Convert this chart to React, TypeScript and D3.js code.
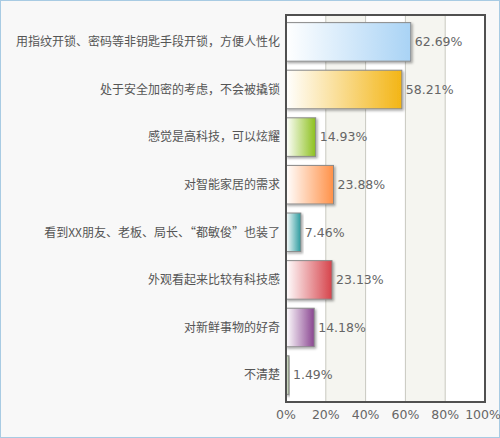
import * as d3 from "d3";
import React from "react";

const categories = [
  "用指纹开锁、密码等非钥匙手段开锁，方便人性化",
  "处于安全加密的考虑，不会被撬锁",
  "感觉是高科技，可以炫耀",
  "对智能家居的需求",
  "看到XX朋友、老板、局长、“都敏俊”也装了",
  "外观看起来比较有科技感",
  "对新鲜事物的好奇",
  "不清楚",
];
const values = [62.69, 58.21, 14.93, 23.88, 7.46, 23.13, 14.18, 1.49];
const barColors = ["#a9d3f5", "#f3b515", "#8cc01c", "#ff9148", "#2a9a9e", "#d6434b", "#8a4691", "#8fa87c"];
const ticks = [0, 20, 40, 60, 80, 100];

const W = 500;
const H = 438;
const plot = { left: 286, right: 485, top: 15, bottom: 402 };

const App: React.FC = () => {
  const x = d3.scaleLinear().domain([0, 100]).range([plot.left, plot.right]);
  const y = d3
    .scaleBand<string>()
    .domain(categories)
    .range([plot.top, plot.bottom])
    .paddingInner(0.19)
    .paddingOuter(0.16);

  return (
    <svg width={W} height={H} style={{ position: "absolute", left: 0, top: 0 }}>
      <defs>
        {barColors.map((c, i) => (
          <linearGradient key={i} id={`g${i}`} x1="0" x2="1" y1="0" y2="0">
            <stop offset="0%" stopColor="#ffffff" />
            <stop offset="100%" stopColor={c} />
          </linearGradient>
        ))}
        <filter id="sh" x="-10%" y="-10%" width="130%" height="140%">
          <feDropShadow dx="1.5" dy="1.5" stdDeviation="1.2" floodColor="#000" floodOpacity="0.35" />
        </filter>
      </defs>
      <rect x={0.5} y={0.5} width={W - 1} height={H - 1} fill="#f8f8f8" stroke="#a8cbe3" />
      <rect x={plot.left} y={plot.top} width={plot.right - plot.left} height={plot.bottom - plot.top} fill="#ffffff" />
      {ticks.slice(0, -1).map((t, i) =>
        i % 2 === 1 ? (
          <rect key={`b${t}`} x={x(t)} y={plot.top} width={x(ticks[i + 1]) - x(t)} height={plot.bottom - plot.top} fill="#f5f5f0" />
        ) : null
      )}
      {ticks.slice(1, -1).map((t) => (
        <line key={`l${t}`} x1={x(t)} x2={x(t)} y1={plot.top} y2={plot.bottom} stroke="#c8c8c0" strokeWidth={1} />
      ))}
      {categories.map((c, i) => {
        const by = y(c) as number;
        const bh = y.bandwidth();
        return (
          <g key={c}>
            <rect
              x={x(0)}
              y={by}
              width={Math.max(x(values[i]) - x(0), 2)}
              height={bh}
              fill={`url(#g${i})`}
              stroke="#8a8a8a"
              strokeWidth={1}
              filter="url(#sh)"
            />
            <text
              x={plot.left - 6}
              y={by + bh / 2}
              dy="0.35em"
              textAnchor="end"
              fontSize={12}
              fill="#555"
              fontFamily="'Noto Sans CJK SC', sans-serif"
            >
              {c}
            </text>
            <text
              x={x(values[i]) + 4}
              y={by + bh / 2}
              dy="0.35em"
              fontSize={12.5}
              fill="#666"
              fontFamily="'DejaVu Sans', Verdana, sans-serif"
            >
              {values[i].toFixed(2)}%
            </text>
          </g>
        );
      })}
      <rect
        x={plot.left}
        y={plot.top}
        width={plot.right - plot.left}
        height={plot.bottom - plot.top}
        fill="none"
        stroke="#505050"
        strokeWidth={2}
      />
      {ticks.map((t) => (
        <text
          key={`t${t}`}
          x={t === 100 ? x(t) - 2 : x(t)}
          y={plot.bottom + 17}
          textAnchor="middle"
          fontSize={12.5}
          fill="#666"
          fontFamily="'DejaVu Sans', Verdana, sans-serif"
        >
          {t}%
        </text>
      ))}
    </svg>
  );
};

export default App;
